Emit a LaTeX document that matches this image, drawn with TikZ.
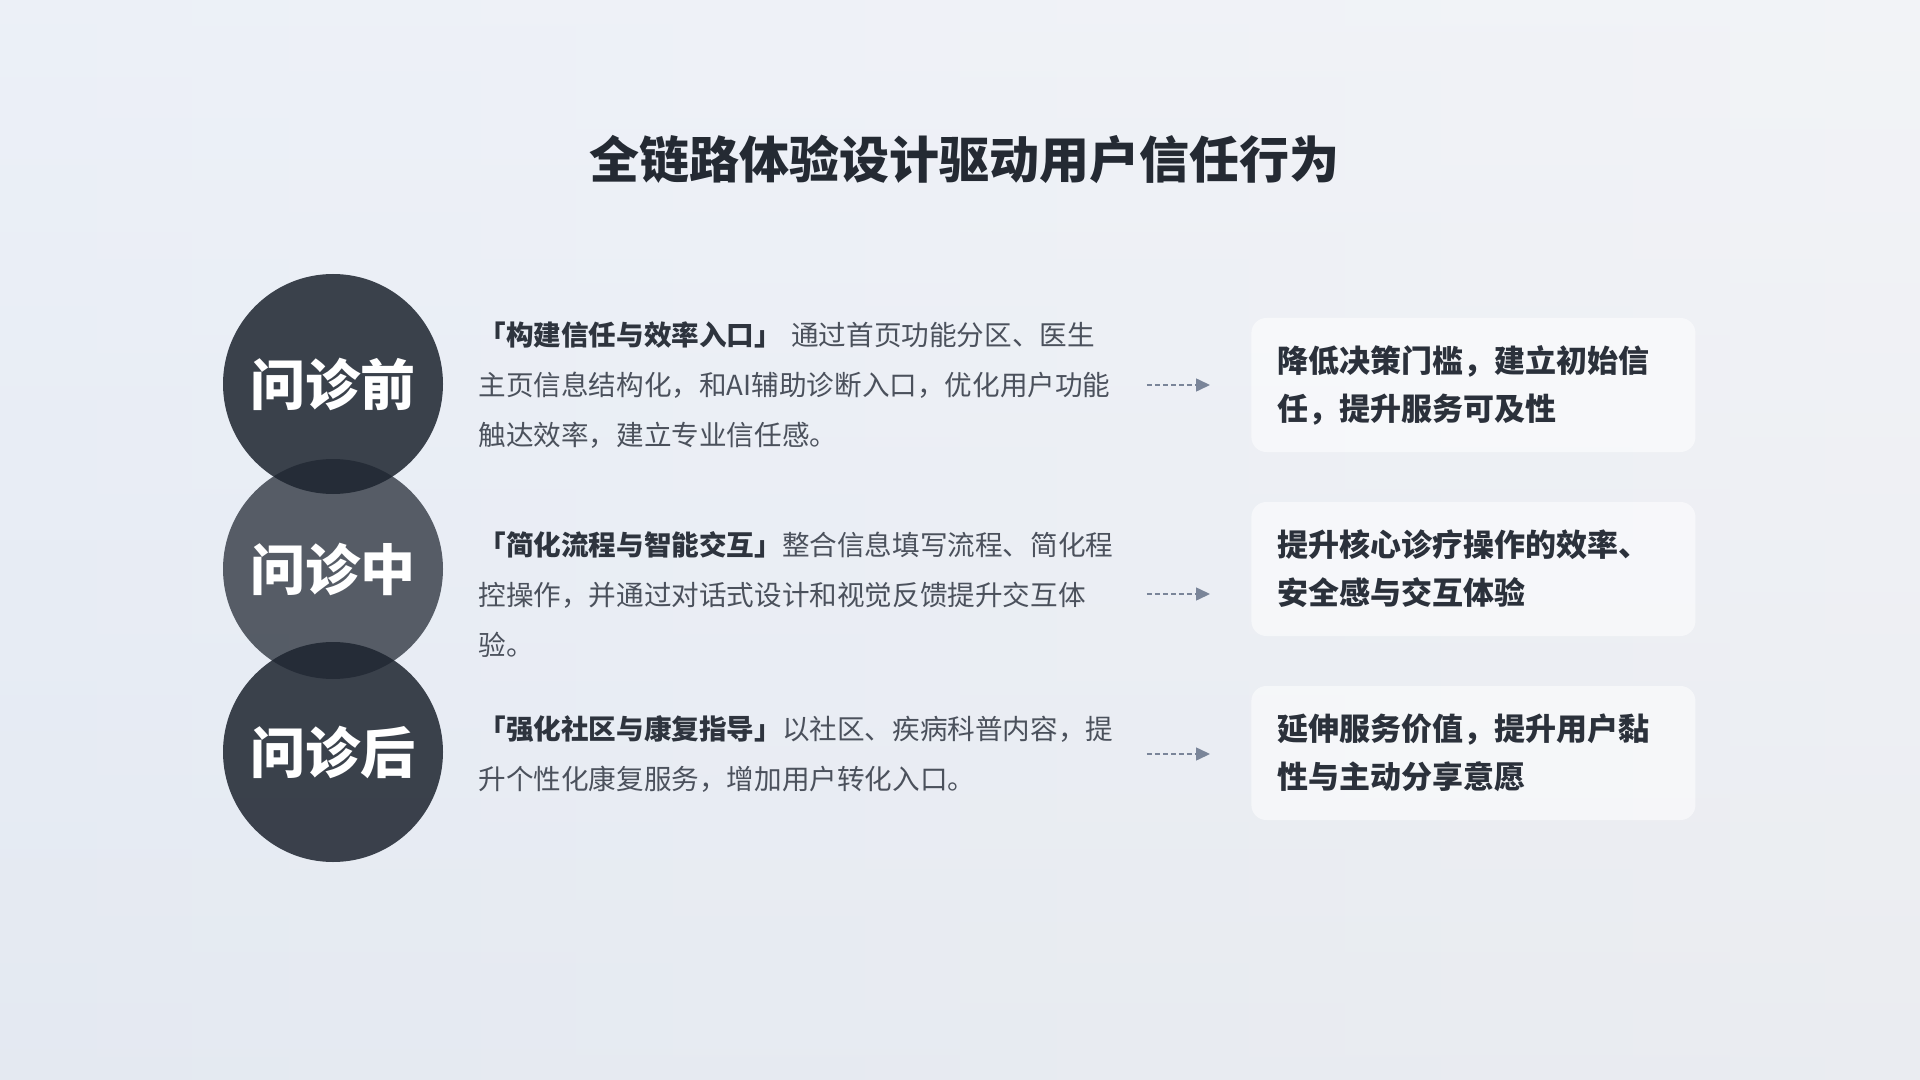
\documentclass[tikz,border=0pt]{standalone}
\usepackage{fontspec}
\setmainfont{Noto Sans CJK SC}
\usetikzlibrary{positioning,arrows.meta}
\definecolor{bgleft}{HTML}{E2E9F4}
\definecolor{bgright}{HTML}{ECEEF3}
\definecolor{bgbottom}{HTML}{E8EAEE}
\definecolor{disk}{HTML}{1E2530}
\definecolor{headink}{HTML}{242A33}
\definecolor{bodyink}{HTML}{4B515C}
\definecolor{keyink}{HTML}{2E343E}
\definecolor{resink}{HTML}{2B313B}
\definecolor{flowink}{HTML}{7A8599}
\begin{document}
\begin{tikzpicture}[
            x=0.5pt, y=-0.5pt,
            title/.style={font=\fontsize{25}{30}\selectfont\bfseries, text=headink},
            stage/.style={circle, inner sep=0pt, minimum size=110pt, fill=disk,
                fill opacity=0.86, text opacity=1, text=white,
                font=\fontsize{27.5}{30}\selectfont\bfseries},
            desc/.style={anchor=west, inner sep=0pt, text width=330pt, align=left,
                text=bodyink, font=\fontsize{13.8}{25}\selectfont},
            result/.style={anchor=west, rounded corners=7.5pt, fill=white, fill opacity=0.55,
                text opacity=1, text=resink, inner xsep=13pt, inner ysep=0pt,
                text width=196pt, minimum height=67pt, align=left,
                font=\fontsize{15.5}{24}\selectfont\bfseries},
            flow/.style={draw=flowink, line width=0.75pt, dash pattern=on 2.5pt off 1.5pt,
                -{Triangle[length=7pt, width=6.5pt, fill=flowink]},
                shorten <=4pt, shorten >=20.5pt}
            ]
        \useasboundingbox (0,0) rectangle (1920,1080);
        % background
        \shade[left color=bgleft, right color=bgright] (0,0) rectangle (1920,1080);
        \shade[top color=white, bottom color=bgbottom, opacity=0.35] (0,0) rectangle (1920,1080);

        \node[title] (head) at (964,159) {全链路体验设计驱动用户信任行为};

        % stages
        \node[stage] (pre) at (333,384) {问诊前};
        \node[stage, fill opacity=0.72] (mid) at (333,569) {问诊中};
        \node[stage] (post) at (333,752) {问诊后};

        % descriptions
        \node[desc] (pretxt) at (478,385) {{\color{keyink}\bfseries「构建信任与效率入口」} 通过首页功能分区、医生\\
            主页信息结构化，和AI辅助诊断入口，优化用户功能\\
            触达效率，建立专业信任感。};
        \node[desc] (midtxt) at (478,594) {{\color{keyink}\bfseries「简化流程与智能交互」}整合信息填写流程、简化程\\
            控操作，并通过对话式设计和视觉反馈提升交互体\\
            验。};
        \node[desc] (posttxt) at (478,754) {{\color{keyink}\bfseries「强化社区与康复指导」}以社区、疾病科普内容，提\\
            升个性化康复服务，增加用户转化入口。};

        % outcomes
        \node[result] (preres) at (1251,385) {降低决策门槛，建立初始信\\任，提升服务可及性};
        \node[result] (midres) at (1251,569) {提升核心诊疗操作的效率、\\安全感与交互体验};
        \node[result] (postres) at (1251,753) {延伸服务价值，提升用户黏\\性与主动分享意愿};

        \draw[flow] (pretxt.east) -- (preres.west |- pretxt.east);
        \draw[flow] (midtxt.east) -- (midres.west |- midtxt.east);
        \draw[flow] (posttxt.east) -- (postres.west |- posttxt.east);
\end{tikzpicture}
\end{document}
